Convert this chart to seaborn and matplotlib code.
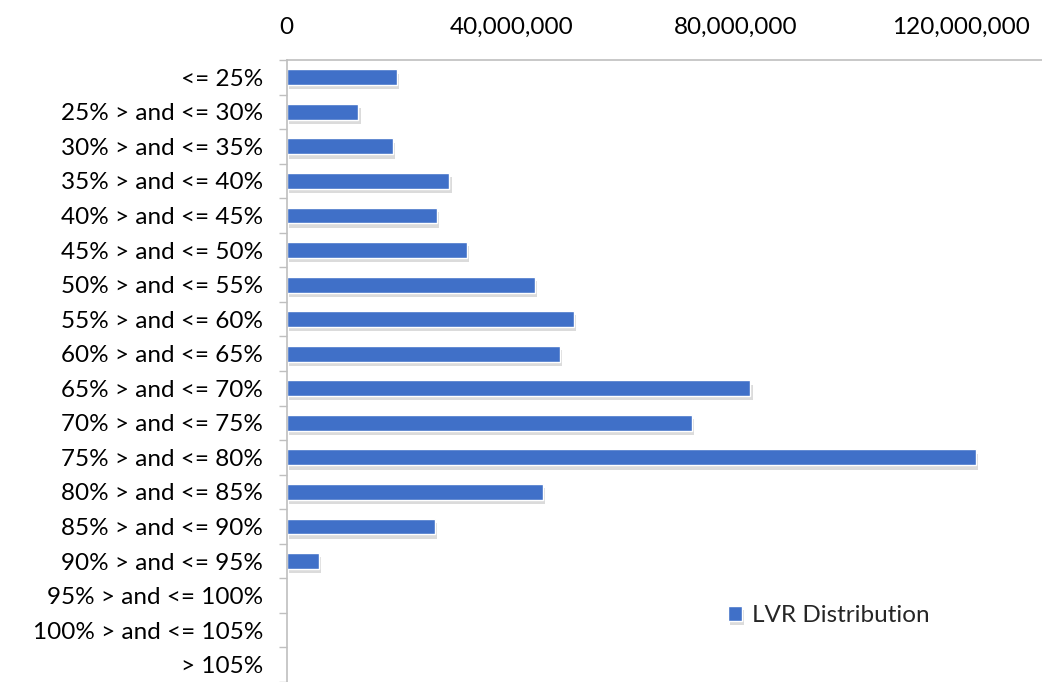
import numpy as np
import pandas as pd
import matplotlib
matplotlib.use("Agg")
import matplotlib.pyplot as plt
import matplotlib.patheffects as pe
from matplotlib.ticker import FuncFormatter, FixedLocator
import seaborn as sns

# LVR buckets and balances
buckets = ["<= 25%", "25% > and <= 30%", "30% > and <= 35%", "35% > and <= 40%",
           "40% > and <= 45%", "45% > and <= 50%", "50% > and <= 55%", "55% > and <= 60%",
           "60% > and <= 65%", "65% > and <= 70%", "70% > and <= 75%", "75% > and <= 80%",
           "80% > and <= 85%", "85% > and <= 90%", "90% > and <= 95%", "95% > and <= 100%",
           "100% > and <= 105%", "> 105%"]
balances = [19.6e6, 12.8e6, 18.9e6, 29.0e6, 26.7e6, 32.2e6, 44.3e6, 51.2e6, 48.6e6,
            82.6e6, 72.2e6, 122.8e6, 45.6e6, 26.5e6, 5.7e6, 0, 0, 0]
xticks = [0, 40e6, 80e6, 120e6]

df = pd.DataFrame({"bucket": buckets, "balance": balances})

sns.set_style("white")
plt.rcParams["font.family"] = ["Lato", "DejaVu Sans"]

fig = plt.figure(figsize=(10.42, 6.82), dpi=100)
ax = fig.add_axes([0.275, 0.0, 0.725, 0.912])

bar_col = "#4070C8"
sns.barplot(data=df, x="balance", y="bucket", orient="h", color=bar_col,
            saturation=1, width=0.46, ax=ax, label="LVR Distribution")
for p in ax.patches:
    p.set_path_effects([pe.SimplePatchShadow(offset=(1.5, -3), shadow_rgbFace="#999999", alpha=0.35),
                        pe.Normal()])

ax.set_xlim(0, 134.5e6)
ax.set_ylim(len(buckets) - 0.5, -0.5)
ax.xaxis.tick_top()
ax.xaxis.set_major_locator(FixedLocator(xticks))
ax.xaxis.set_major_formatter(FuncFormatter(lambda v, _: f"{v:,.0f}"))
ax.tick_params(axis="x", length=0, pad=16, labelsize=17.5, colors="black")
ax.tick_params(axis="y", which="major", length=0, pad=17, labelsize=17.5, colors="black")
ax.yaxis.set_minor_locator(FixedLocator(np.arange(-0.5, len(buckets), 1)))
ax.tick_params(axis="y", which="minor", length=6, width=1, color="#BFBFBF", left=True)
ax.set_xlabel("")
ax.set_ylabel("")

for side in ["right", "bottom"]:
    ax.spines[side].set_visible(False)
for side in ["top", "left"]:
    ax.spines[side].set_color("#BFBFBF")
    ax.spines[side].set_linewidth(1.2)

leg = ax.legend(loc="lower left", bbox_to_anchor=(0.555, 0.055), frameon=False,
                fontsize=17.5, handlelength=0.6, handleheight=0.6, handletextpad=0.4)

fig.savefig("out.png", dpi=100)
